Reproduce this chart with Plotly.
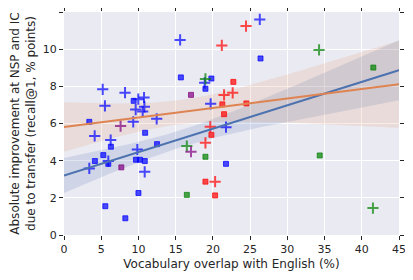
import numpy as np
import plotly.graph_objects as go

# ---- data ----
# squares (one task)
sq_blue_x = [26.4, 15.7, 19.8, 19.0, 9.36, 3.4, 10.9, 6.3, 12.5, 5.28, 4.15, 5.95, 9.67, 10.2, 10.85, 10.0, 5.55, 8.24, 21.76]
sq_blue_y = [9.5, 8.48, 8.42, 7.87, 7.22, 6.09, 5.5, 4.75, 4.89, 4.3, 3.98, 3.83, 4.05, 4.05, 3.98, 2.26, 1.55, 0.9, 3.83]
sq_red_x = [22.75, 21.27, 24.5, 21.5, 19.8, 19.0, 20.3]
sq_red_y = [8.24, 7.03, 7.08, 6.5, 5.39, 2.87, 2.13]
sq_green_x = [41.55, 34.35, 19.0, 16.5]
sq_green_y = [9.01, 4.28, 4.21, 2.16]
sq_purple_x = [17.06, 7.7]
sq_purple_y = [7.54, 3.64]

# pluses (other task)
pl_blue_x = [15.6, 26.3, 18.9, 19.7, 12.45, 5.2, 8.2, 9.98, 10.75, 9.63, 10.8, 10.57, 5.5, 9.3, 4.12, 6.27, 9.85, 3.4, 10.84, 21.76, 5.95]
pl_blue_y = [10.5, 11.6, 8.19, 7.06, 6.25, 7.84, 7.66, 7.31, 7.4, 6.75, 6.9, 6.64, 6.95, 6.09, 5.33, 5.11, 4.6, 3.58, 3.4, 5.8, 3.98]
pl_red_x = [24.45, 21.2, 21.5, 22.66, 19.65, 19.0, 20.3]
pl_red_y = [11.24, 10.2, 7.54, 7.65, 5.82, 4.96, 2.87]
pl_green_x = [19.0, 34.26, 16.5, 41.5]
pl_green_y = [8.4, 9.96, 4.79, 1.45]
pl_purple_x = [7.6, 17.06]
pl_purple_y = [5.86, 4.48]

x_ticks = [0, 5, 10, 15, 20, 25, 30, 35, 40, 45]
y_ticks = [0, 2, 4, 6, 8, 10, 12]

x_title = "Vocabulary overlap with English (%)"
y_title = "Absolute improvement at NSP and IC<br>due to transfer (recall@1, % points)"

# ---- styling ----
C_BLUE = "rgba(0,0,255,0.7)"
C_RED = "rgba(255,0,0,0.7)"
C_GREEN = "rgba(0,128,0,0.7)"
C_PURPLE = "rgba(128,0,128,0.7)"
LINE_BLUE = "#4C72B0"
LINE_ORANGE = "#DD8452"

fig = go.Figure()


def fit_band(xs, ys, fill, scale):
    xs = np.asarray(xs, float)
    ys = np.asarray(ys, float)
    n = len(xs)
    b, a = np.polyfit(xs, ys, 1)
    grid = np.linspace(0, 45, 100)
    pred = a + b * grid
    resid = ys - (a + b * xs)
    s = np.sqrt(np.sum(resid ** 2) / (n - 2))
    sxx = np.sum((xs - xs.mean()) ** 2)
    hw = scale * s * np.sqrt(1.0 / n + (grid - xs.mean()) ** 2 / sxx)
    fig.add_trace(go.Scatter(x=np.concatenate([grid, grid[::-1]]),
                             y=np.concatenate([pred + hw, (pred - hw)[::-1]]),
                             fill="toself", fillcolor=fill, line=dict(width=0),
                             mode="lines", hoverinfo="skip", showlegend=False))
    return grid, pred


sq_x = sq_blue_x + sq_red_x + sq_green_x + sq_purple_x
sq_y = sq_blue_y + sq_red_y + sq_green_y + sq_purple_y
pl_x = pl_blue_x + pl_red_x + pl_green_x + pl_purple_x
pl_y = pl_blue_y + pl_red_y + pl_green_y + pl_purple_y

g1, p1 = fit_band(sq_x, sq_y, "rgba(76,114,176,0.17)", 1.25)
g2, p2 = fit_band(pl_x, pl_y, "rgba(221,132,82,0.15)", 1.6)

groups = [
    (sq_blue_x, sq_blue_y, C_BLUE, "square"),
    (sq_red_x, sq_red_y, C_RED, "square"),
    (sq_green_x, sq_green_y, C_GREEN, "square"),
    (sq_purple_x, sq_purple_y, C_PURPLE, "square"),
    (pl_blue_x, pl_blue_y, C_BLUE, "cross-thin"),
    (pl_red_x, pl_red_y, C_RED, "cross-thin"),
    (pl_green_x, pl_green_y, C_GREEN, "cross-thin"),
    (pl_purple_x, pl_purple_y, C_PURPLE, "cross-thin"),
]
for xs, ys, c, sym in groups:
    if sym == "square":
        mk = dict(symbol="square", size=5, color=c, line=dict(width=1, color=c))
    else:
        mk = dict(symbol="cross-thin", size=8, color=c, line=dict(width=2, color=c))
    fig.add_trace(go.Scatter(x=xs, y=ys, mode="markers", marker=mk, showlegend=False))

fig.add_trace(go.Scatter(x=g1, y=p1, mode="lines", line=dict(color=LINE_BLUE, width=2), showlegend=False))
fig.add_trace(go.Scatter(x=g2, y=p2, mode="lines", line=dict(color=LINE_ORANGE, width=2), showlegend=False))

axis_common = dict(showgrid=True, gridcolor="white", gridwidth=1, zeroline=False,
                   ticks="outside", ticklen=4, tickwidth=1, tickcolor="#262626",
                   mirror="ticks", showline=True, linecolor="white", linewidth=1,
                   automargin=False,
                   tickfont=dict(family="DejaVu Sans", size=11, color="#262626"))

# the page body adds an 8px offset, so margins are shifted to land the plot at 64..399 x 12..235
fig.update_layout(
    width=413, height=280,
    margin=dict(l=56, r=22, t=4, b=53),
    paper_bgcolor="white", plot_bgcolor="#EAEAF2",
    font=dict(family="DejaVu Sans", size=11, color="#262626"),
    xaxis=dict(range=[0, 45], tickvals=x_ticks, title=dict(text=x_title, font=dict(size=12), standoff=4),
               **axis_common),
    yaxis=dict(range=[0, 12], tickvals=y_ticks, title=dict(text=y_title, font=dict(size=12), standoff=4),
               **axis_common),
)

fig.write_html("out.html")
